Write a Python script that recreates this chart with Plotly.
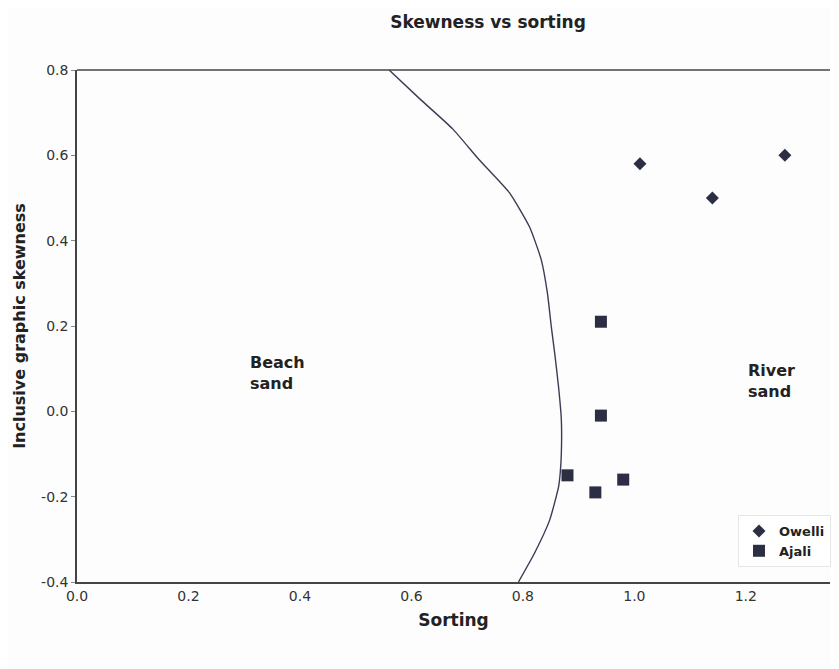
import plotly.graph_objects as go

# Data
owelli_sorting = [1.01, 1.14, 1.27]
owelli_skew = [0.58, 0.50, 0.60]

ajali_sorting = [0.94, 0.94, 0.88, 0.93, 0.98]
ajali_skew = [0.21, -0.01, -0.15, -0.19, -0.16]

# Boundary line between beach sand and river sand
boundary_x = [0.560, 0.617, 0.674, 0.722, 0.776, 0.812, 0.833, 0.844, 0.851, 0.857,
              0.864, 0.869, 0.869, 0.867, 0.864, 0.848, 0.821, 0.792]
boundary_y = [0.800, 0.730, 0.662, 0.589, 0.512, 0.432, 0.355, 0.277, 0.198, 0.137,
              0.057, -0.020, -0.098, -0.144, -0.177, -0.255, -0.332, -0.400]

x_ticks = [0.0, 0.2, 0.4, 0.6, 0.8, 1.0, 1.2]
y_ticks = [-0.4, -0.2, 0.0, 0.2, 0.4, 0.6, 0.8]

ink = "#2c2e44"
font_fam = "DejaVu Sans, Verdana, sans-serif"

fig = go.Figure()
fig.add_trace(go.Scatter(
    x=boundary_x, y=boundary_y, mode="lines",
    line=dict(color="#3a3c55", width=1.4, shape="spline", smoothing=0.5),
    showlegend=False, hoverinfo="skip"))
fig.add_trace(go.Scatter(
    x=owelli_sorting, y=owelli_skew, mode="markers", name="Owelli",
    marker=dict(symbol="diamond", size=10, color=ink)))
fig.add_trace(go.Scatter(
    x=ajali_sorting, y=ajali_skew, mode="markers", name="Ajali",
    marker=dict(symbol="square", size=12, color=ink)))

fig.add_annotation(x=0.306, y=0.09, xref="x", yref="y", text="<b>Beach<br>sand</b>",
                   showarrow=False, align="left", xanchor="left",
                   font=dict(family=font_fam, size=16, color="#222"))
fig.add_annotation(x=1.20, y=0.07, xref="x", yref="y", text="<b>River<br>sand</b>",
                   showarrow=False, align="left", xanchor="left",
                   font=dict(family=font_fam, size=16, color="#222"))

fig.update_layout(
    width=823, height=661,
    margin=dict(l=69, r=0, t=62, b=87),
    paper_bgcolor="#fdfdfd", plot_bgcolor="#fdfdfd",
    title=dict(text="<b>Skewness vs sorting</b>", x=480 / 823, xref="container", xanchor="center",
               y=1 - 14 / 661, yanchor="middle",
               font=dict(family=font_fam, size=17, color="#222")),
    legend=dict(x=0.878, y=0.131, xanchor="left", yanchor="top",
                bgcolor="rgba(255,255,255,0.9)", bordercolor="#e6e6e6", borderwidth=1,
                font=dict(family=font_fam, size=13, color="#222", weight="bold"),
                itemwidth=30, tracegroupgap=0),
    xaxis=dict(range=[0, 1.351], tickvals=x_ticks, ticktext=[f"{v:.1f}" for v in x_ticks],
               showgrid=False, zeroline=False, showline=True, linecolor="#444", linewidth=1.5,
               mirror=False, ticks="", ticklen=0, automargin=False,
               tickfont=dict(family=font_fam, size=14, color="#333"),
               title=dict(text="<b>Sorting</b>", standoff=12,
                          font=dict(family=font_fam, size=17, color="#222"))),
    yaxis=dict(range=[-0.4, 0.8], tickvals=y_ticks, ticktext=[f"{v:.1f}" for v in y_ticks],
               showgrid=False, zeroline=False, showline=True, linecolor="#444", linewidth=1.5,
               ticks="outside", ticklen=4, tickcolor="#888", automargin=False,
               tickfont=dict(family=font_fam, size=14, color="#333"),
               title=dict(text="<b>Inclusive graphic skewness</b>", standoff=12,
                          font=dict(family=font_fam, size=16, color="#222"))),
)
# top border line
fig.add_shape(type="line", xref="paper", yref="paper", x0=0, x1=1, y0=1, y1=1,
              line=dict(color="#444", width=1.5))

fig.write_html("out.html")
